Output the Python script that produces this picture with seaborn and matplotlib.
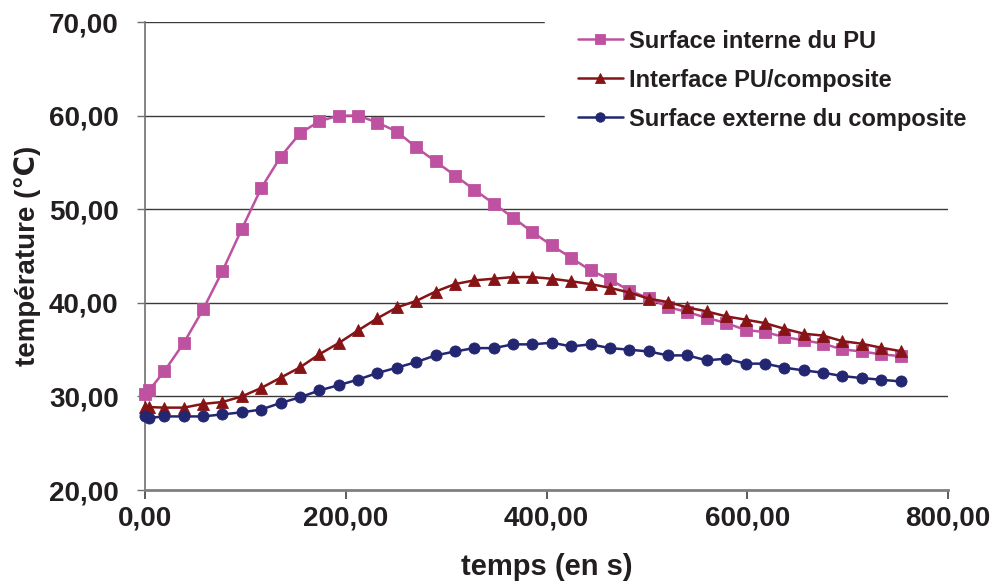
import matplotlib
matplotlib.use("Agg")
import matplotlib.pyplot as plt
import seaborn as sns
import pandas as pd

# ---- data -------------------------------------------------------------
temps = [0, 4, 19.3, 38.6, 57.9, 77.2, 96.5, 115.8, 135.1, 154.4, 173.7,
         193.0, 212.3, 231.6, 250.9, 270.2, 289.5, 308.8, 328.1, 347.4,
         366.7, 386.0, 405.3, 424.6, 443.9, 463.2, 482.5, 501.8, 521.1,
         540.4, 559.7, 579.0, 598.3, 617.6, 636.9, 656.2, 675.5, 694.8,
         714.1, 733.4, 752.7]

surface_interne = [30.29, 30.64, 32.7, 35.7, 39.3, 43.4, 47.9, 52.25, 55.6,
                   58.1, 59.4, 60.0, 60.0, 59.25, 58.3, 56.6, 55.1, 53.6,
                   52.08, 50.6, 49.1, 47.55, 46.13, 44.8, 43.46, 42.5, 41.3,
                   40.5, 39.55, 39.0, 38.4, 37.83, 37.1, 36.87, 36.34, 36.0,
                   35.63, 35.02, 34.8, 34.5, 34.3]

interface = [28.86, 28.86, 28.8, 28.8, 29.2, 29.4, 30.0, 30.9, 32.0, 33.1,
             34.5, 35.7, 37.05, 38.35, 39.5, 40.2, 41.2, 42.0, 42.4, 42.57,
             42.75, 42.75, 42.57, 42.3, 42.0, 41.6, 41.1, 40.44, 40.08, 39.5,
             39.08, 38.55, 38.2, 37.83, 37.23, 36.7, 36.5, 35.9, 35.63, 35.2,
             34.84]

surface_externe = [27.86, 27.7, 27.86, 27.86, 27.86, 28.08, 28.3, 28.6, 29.3,
                   29.9, 30.64, 31.2, 31.8, 32.5, 33.07, 33.67, 34.38, 34.8,
                   35.16, 35.16, 35.56, 35.56, 35.74, 35.34, 35.56, 35.16,
                   34.99, 34.8, 34.38, 34.38, 33.85, 34.03, 33.5, 33.5, 33.07,
                   32.78, 32.53, 32.17, 31.96, 31.78, 31.6]

series_names = ["Surface interne du PU", "Interface PU/composite",
                "Surface externe du composite"]

xticks = [0, 200, 400, 600, 800]
xtick_labels = ["0,00", "200,00", "400,00", "600,00", "800,00"]
yticks = [20, 30, 40, 50, 60, 70]
ytick_labels = ["20,00", "30,00", "40,00", "50,00", "60,00", "70,00"]

# ---- style ------------------------------------------------------------
sns.set_style("white")
plt.rcParams["font.family"] = ["Liberation Sans", "DejaVu Sans"]
plt.rcParams["font.weight"] = "bold"
TXT = "#231F20"

colors = ["#BE52A0", "#861416", "#232670"]
markers = ["s", "^", "o"]
msizes = [8.5, 9, 8]

fig = plt.figure(figsize=(9.94, 5.85), dpi=100)
ax = fig.add_axes([145 / 994, 1 - 490 / 585, (948 - 145) / 994, (490 - 22) / 585])

for vals, name, c, m, ms in zip([surface_interne, interface, surface_externe],
                                series_names, colors, markers, msizes):
    df = pd.DataFrame({"x": temps, "y": vals})
    sns.lineplot(data=df, x="x", y="y", ax=ax, color=c, marker=m,
                 markersize=ms, markeredgecolor=c, markeredgewidth=0.6,
                 linewidth=1.8, label=name, zorder=3, clip_on=False)

ax.set_xlim(0, 800)
ax.set_ylim(20, 70)
ax.set_xticks(xticks)
ax.set_xticklabels(xtick_labels)
ax.set_yticks(yticks)
ax.set_yticklabels(ytick_labels)

for yv in yticks[1:]:
    ax.axhline(yv, color="#3a3a3a", linewidth=1.0, zorder=1)

for s in ["top", "right"]:
    ax.spines[s].set_visible(False)
ax.spines["left"].set_color("#707070")
ax.spines["left"].set_linewidth(1.2)
ax.spines["bottom"].set_color("#808080")
ax.spines["bottom"].set_linewidth(2.0)

ax.tick_params(axis="y", direction="out", length=6, width=1, color="#707070",
               pad=13, labelsize=20, labelcolor=TXT, left=True)
ax.tick_params(axis="x", direction="out", length=6.5, width=1.2,
               color="#404040", pad=5, labelsize=20, labelcolor=TXT,
               bottom=True)
for lab in ax.get_xticklabels() + ax.get_yticklabels():
    lab.set_fontweight("bold")

ax.set_xlabel("temps (en s)", fontsize=21, fontweight="bold", color=TXT,
              labelpad=15)
ax.set_ylabel("température (℃)", fontsize=20, fontweight="bold", color=TXT,
              labelpad=6)

leg = ax.legend(loc="upper left", bbox_to_anchor=(545 / 994, 1.006),
                bbox_transform=fig.transFigure, frameon=True, fancybox=False,
                facecolor="white", edgecolor="white", framealpha=1,
                prop={"size": 17, "weight": "bold"}, borderpad=1.4,
                handlelength=1.9, handletextpad=0.25, labelspacing=0.68,
                borderaxespad=0)
for t in leg.get_texts():
    t.set_color(TXT)
for h, ms in zip(leg.legend_handles, msizes):
    h.set_markersize(ms * 0.85)
leg.set_zorder(10)

fig.savefig("out.png", dpi=100, facecolor="white")
